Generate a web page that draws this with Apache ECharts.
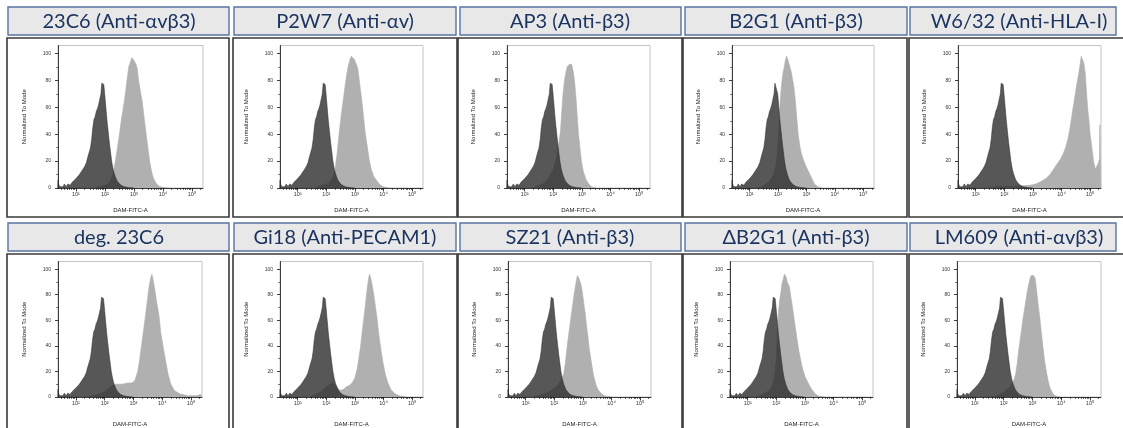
<!DOCTYPE html>
<html><head><meta charset="utf-8">
<script src="https://cdn.jsdelivr.net/npm/echarts@6/dist/echarts.min.js"></script>
<style>html,body{margin:0;padding:0;background:#fff}#c{width:1123px;height:428px}</style>
</head><body><div id="c"></div>
<script>
// ---------- DATA (x in log10 of DAM-FITC-A, y = Normalized To Mode) ----------
const panelTitles = ['23C6 (Anti-αvβ3)', 'P2W7 (Anti-αv)', 'AP3 (Anti-β3)', 'B2G1 (Anti-β3)', 'W6/32 (Anti-HLA-I)',
  'deg. 23C6', 'Gi18 (Anti-PECAM1)', 'SZ21 (Anti-β3)', 'ΔB2G1 (Anti-β3)', 'LM609 (Anti-αvβ3)'];
const xTickValues = [1, 2, 3, 4, 5];
const xTickLabels = ['10¹', '10²', '10³', '10⁴', '10⁵'];
const yTickValues = [0, 20, 40, 60, 80, 100];
const yMinorTickValues = [10, 30, 50, 70, 90];
const xAxisTitle = 'DAM-FITC-A';
const yAxisTitle = 'Normalized To Mode';

const isotypeControl = [[0.37,0],[0.38,6],[0.4,3],[0.44,1],[0.5,2],[0.55,1],[0.6,3],[0.66,1],[0.72,3],[0.8,2],[0.86,4],[0.92,5],[1.0,7],[1.06,8],[1.12,10],[1.18,12],[1.24,14],[1.3,16],[1.36,19],[1.42,24],[1.46,27],[1.5,30],[1.54,36],[1.58,45],[1.62,51],[1.66,53],[1.7,57],[1.74,59],[1.78,62],[1.82,66],[1.86,70],[1.89,78],[1.93,79],[1.96,77],[1.99,70],[2.03,60],[2.07,50],[2.11,42],[2.15,34],[2.19,27],[2.23,20],[2.28,14],[2.33,10],[2.4,6],[2.48,3.5],[2.56,2],[2.66,1],[2.8,0.4],[3.0,0]];

const s23C6 = [[1.6,0],[1.8,1],[2.0,2],[2.1,3],[2.2,6],[2.28,11],[2.36,20],[2.43,30],[2.5,40],[2.56,50],[2.62,58],[2.67,65],[2.72,73],[2.77,82],[2.82,90],[2.88,94],[2.93,97],[2.97,96],[3.02,94],[3.07,92],[3.11,89],[3.16,80],[3.22,72],[3.28,65],[3.34,54],[3.42,40],[3.48,30],[3.54,20],[3.6,13],[3.66,8],[3.72,5],[3.8,2.5],[3.9,1],[4.05,0.3],[4.2,0]];
const sP2W7 = [[1.6,0],[1.8,2],[2.0,3],[2.15,5],[2.25,9],[2.32,16],[2.38,26],[2.45,41],[2.52,54],[2.59,65],[2.65,75],[2.71,84],[2.76,90],[2.82,95],[2.87,98],[2.92,98],[2.97,96],[3.03,93],[3.1,89],[3.17,77],[3.24,65],[3.3,53],[3.36,41],[3.43,31],[3.5,21],[3.57,14],[3.65,9],[3.74,6],[3.85,3],[3.98,1],[4.2,0]];
const sAP3 = [[1.3,0],[1.5,2],[1.7,4],[1.85,8],[2.0,14],[2.1,22],[2.18,32],[2.25,42],[2.29,55],[2.33,68],[2.39,80],[2.44,86],[2.48,90],[2.52,89],[2.56,92],[2.6,91],[2.64,92],[2.69,87],[2.74,80],[2.8,65],[2.84,52],[2.88,40],[2.93,30],[2.98,20],[3.05,12],[3.15,6],[3.24,3],[3.33,1],[3.5,0]];
const sB2G1 = [[1.3,0],[1.5,2],[1.7,5],[1.82,9],[1.92,16],[1.98,26],[2.02,40],[2.05,52],[2.08,65],[2.11,73],[2.14,80],[2.18,86],[2.22,90],[2.26,95],[2.3,98],[2.34,96],[2.38,93],[2.42,90],[2.47,86],[2.51,85],[2.56,75],[2.61,65],[2.66,52],[2.71,40],[2.77,31],[2.83,25],[2.91,20],[2.99,16],[3.08,12],[3.17,8],[3.28,3],[3.4,1],[3.55,0]];
const sW632 = [[1.4,0],[1.7,1],[2.0,1],[2.3,1],[2.6,1.5],[2.9,2],[3.1,3],[3.3,5],[3.45,7],[3.6,10],[3.72,14],[3.85,18],[3.95,21],[4.05,25],[4.14,30],[4.22,36],[4.3,45],[4.37,55],[4.43,63],[4.48,70],[4.54,78],[4.6,85],[4.65,92],[4.69,98],[4.73,97],[4.78,93],[4.83,85],[4.87,72],[4.91,60],[4.96,50],[5.0,40],[5.06,30],[5.12,20],[5.18,14],[5.22,13],[5.28,18],[5.33,22],[5.34,47],[5.37,47],[5.375,0]];
const sDeg23C6 = [[1.4,0],[1.6,1],[1.9,3],[2.1,6],[2.25,9],[2.4,10],[2.6,10],[2.8,11],[2.95,11],[3.05,13],[3.15,20],[3.22,30],[3.28,40],[3.35,52],[3.42,64],[3.48,75],[3.54,86],[3.6,93],[3.64,96],[3.68,92],[3.74,84],[3.8,75],[3.89,63],[3.95,50],[4.04,38],[4.12,28],[4.2,18],[4.3,10],[4.42,5],[4.6,2.5],[4.9,1],[5.2,1],[5.33,2],[5.375,0]];
const sGi18 = [[1.4,0],[1.5,1],[1.8,4],[2.0,8],[2.12,10],[2.22,11],[2.3,10],[2.4,7],[2.5,5],[2.6,6],[2.7,8],[2.8,9],[2.9,11],[3.0,15],[3.08,22],[3.15,32],[3.2,40],[3.26,52],[3.32,63],[3.38,75],[3.43,85],[3.48,93],[3.51,96],[3.55,93],[3.6,88],[3.66,80],[3.72,70],[3.77,62],[3.84,48],[3.91,37],[3.98,27],[4.06,18],[4.14,12],[4.25,6],[4.4,2.5],[4.55,1],[4.8,0]];
const sSZ21 = [[1.3,0],[1.6,2],[1.9,5],[2.1,9],[2.22,13],[2.33,18],[2.39,27],[2.44,38],[2.51,50],[2.58,62],[2.64,72],[2.69,80],[2.74,87],[2.78,92],[2.81,95],[2.85,93],[2.89,91],[2.93,88],[2.98,82],[3.02,75],[3.08,65],[3.13,55],[3.18,46],[3.22,38],[3.29,28],[3.36,18],[3.45,10],[3.52,6],[3.59,4],[3.7,1.5],[3.82,0.5],[4.0,0]];
const sDeltaB2G1 = [[1.3,0],[1.5,2],[1.75,5],[1.88,10],[1.95,18],[2.0,30],[2.04,55],[2.08,68],[2.12,76],[2.16,82],[2.2,89],[2.24,92],[2.28,96],[2.31,97],[2.34,94],[2.38,90],[2.42,88],[2.46,86],[2.51,78],[2.56,71],[2.61,63],[2.66,55],[2.72,46],[2.78,37],[2.85,29],[2.92,22],[3.0,16],[3.09,12],[3.18,8],[3.27,5],[3.38,2],[3.5,0.5],[3.7,0]];
const sLM609 = [[1.5,0],[1.8,1],[2.0,4],[2.12,6],[2.23,8],[2.33,12],[2.41,17],[2.47,26],[2.52,36],[2.58,46],[2.63,54],[2.67,61],[2.72,68],[2.77,75],[2.81,81],[2.86,87],[2.92,93],[2.96,95],[3.0,96],[3.04,95],[3.09,93],[3.13,86],[3.17,78],[3.21,70],[3.26,61],[3.32,48],[3.38,36],[3.43,27],[3.49,19],[3.55,12],[3.61,7],[3.7,3],[3.78,1],[3.95,0]];

const sampleSeries = [s23C6, sP2W7, sAP3, sB2G1, sW632, sDeg23C6, sGi18, sSZ21, sDeltaB2G1, sLM609];

// ---------- LAYOUT ----------
const X_MIN = 0.38, X_MAX = 5.38, Y_MAX = 106;
const gridLeft  = [58, 280, 507, 732, 958, 58, 280, 508, 730, 957];
const gridWidth = [145, 143, 143, 142, 143, 144, 143, 143, 143, 144];
const rowGridTop = [45.5, 261.5], rowGridH = [142.5, 142];
const rowXNameGap = [19, 24];
const colBoxX = [7, 233, 458, 683, 909];
const colBoxW = [222, 224, 224, 224, 230];
const titleBoxX = [8, 234, 460, 685, 910];
const titleBoxW = [221, 222, 221, 222, 206];
const titleTextX = [119, 345, 570, 796, 1019];
const rowTitleY = [7, 223], rowTitleH = [28, 28];
const rowBoxY = [38, 254], rowBoxH = [179, 185];

const xMinorTicks = [];
for (let d = 0; d <= 5; d++) for (let k = 2; k <= 9; k++) {
  const v = d + Math.log10(k);
  if (v > X_MIN && v < X_MAX) xMinorTicks.push(v);
}

const font = '"Liberation Sans", Arial, sans-serif';
const grids = [], xAxes = [], yAxes = [], series = [], graphics = [];

for (let c = 0; c < 5; c++) for (let r = 0; r < 2; r++) {
  graphics.push({ type: 'rect', z: -20, silent: true,
    shape: { x: colBoxX[c], y: rowBoxY[r], width: colBoxW[c], height: rowBoxH[r] },
    style: { fill: '#fff', stroke: '#3a3a3a', lineWidth: 1.6 } });
  graphics.push({ type: 'rect', z: -20, silent: true,
    shape: { x: titleBoxX[c], y: rowTitleY[r], width: titleBoxW[c], height: rowTitleH[r] },
    style: { fill: '#e8e8e8', stroke: '#5873a3', lineWidth: 1.4 } });
  graphics.push({ type: 'text', z: 10, silent: true,
    x: titleTextX[c], y: rowTitleY[r] + rowTitleH[r] / 2 + 1,
    style: { text: panelTitles[r * 5 + c], fill: '#1c3461', font: '20px Lato, "Noto Sans", sans-serif',
      textAlign: 'center', textVerticalAlign: 'middle' } });
}

for (let i = 0; i < 10; i++) {
  const r = i < 5 ? 0 : 1;
  grids.push({ left: gridLeft[i], width: gridWidth[i], top: rowGridTop[r], height: rowGridH[r],
    show: true, borderColor: '#c4c4c4', borderWidth: 1, backgroundColor: 'transparent' });
  xAxes.push({ gridIndex: i, type: 'value', min: X_MIN, max: X_MAX, position: 'bottom',
    axisLine: { show: true, onZero: false, lineStyle: { color: '#111', width: 0.8 } },
    axisTick: { show: true, customValues: xTickValues, length: 3.5, lineStyle: { color: '#111', width: 0.8 } },
    axisLabel: { customValues: xTickValues, fontSize: 5.5, color: '#333', margin: 3, fontFamily: font,
      formatter: v => xTickLabels[xTickValues.indexOf(Math.round(v))] || '' },
    splitLine: { show: false },
    name: xAxisTitle, nameLocation: 'middle', nameGap: rowXNameGap[r],
    nameTextStyle: { fontSize: 6, color: '#222', fontFamily: font } });
  xAxes.push({ gridIndex: i, type: 'value', min: X_MIN, max: X_MAX, position: 'bottom',
    axisLine: { show: false, onZero: false },
    axisTick: { show: true, customValues: xMinorTicks, length: 2, lineStyle: { color: '#111', width: 0.6 } },
    axisLabel: { show: false }, splitLine: { show: false } });
  yAxes.push({ gridIndex: i, type: 'value', min: 0, max: Y_MAX, position: 'left',
    axisLine: { show: true, onZero: false, lineStyle: { color: '#111', width: 0.8 } },
    axisTick: { show: true, customValues: yTickValues, length: 3, lineStyle: { color: '#111', width: 0.8 } },
    axisLabel: { customValues: yTickValues, fontSize: 5, color: '#333', margin: 7, fontFamily: font },
    splitLine: { show: false },
    name: yAxisTitle, nameLocation: 'middle', nameGap: 31,
    nameTextStyle: { fontSize: 6, color: '#222', fontFamily: font } });
  yAxes.push({ gridIndex: i, type: 'value', min: 0, max: Y_MAX, position: 'left',
    axisLine: { show: false, onZero: false },
    axisTick: { show: true, customValues: yMinorTickValues, length: 1.8, lineStyle: { color: '#111', width: 0.6 } },
    axisLabel: { show: false }, splitLine: { show: false } });
  series.push({ type: 'line', xAxisIndex: 2 * i, yAxisIndex: 2 * i, data: sampleSeries[i],
    showSymbol: false, symbol: 'none', silent: true, z: 2,
    lineStyle: { width: 0.6, color: '#acacac' }, areaStyle: { color: '#b0b0b0', opacity: 1 } });
  series.push({ type: 'line', xAxisIndex: 2 * i, yAxisIndex: 2 * i, data: isotypeControl,
    showSymbol: false, symbol: 'none', silent: true, z: 3,
    lineStyle: { width: 0.6, color: 'rgba(45,45,45,0.85)' }, areaStyle: { color: 'rgb(45,45,45)', opacity: 0.8 } });
}

const chart = echarts.init(document.getElementById('c'), null, { renderer: 'canvas' });
chart.setOption({
  animation: false,
  backgroundColor: '#fff',
  textStyle: { fontFamily: font },
  grid: grids, xAxis: xAxes, yAxis: yAxes, series: series,
  graphic: { elements: graphics }
});
</script></body></html>
